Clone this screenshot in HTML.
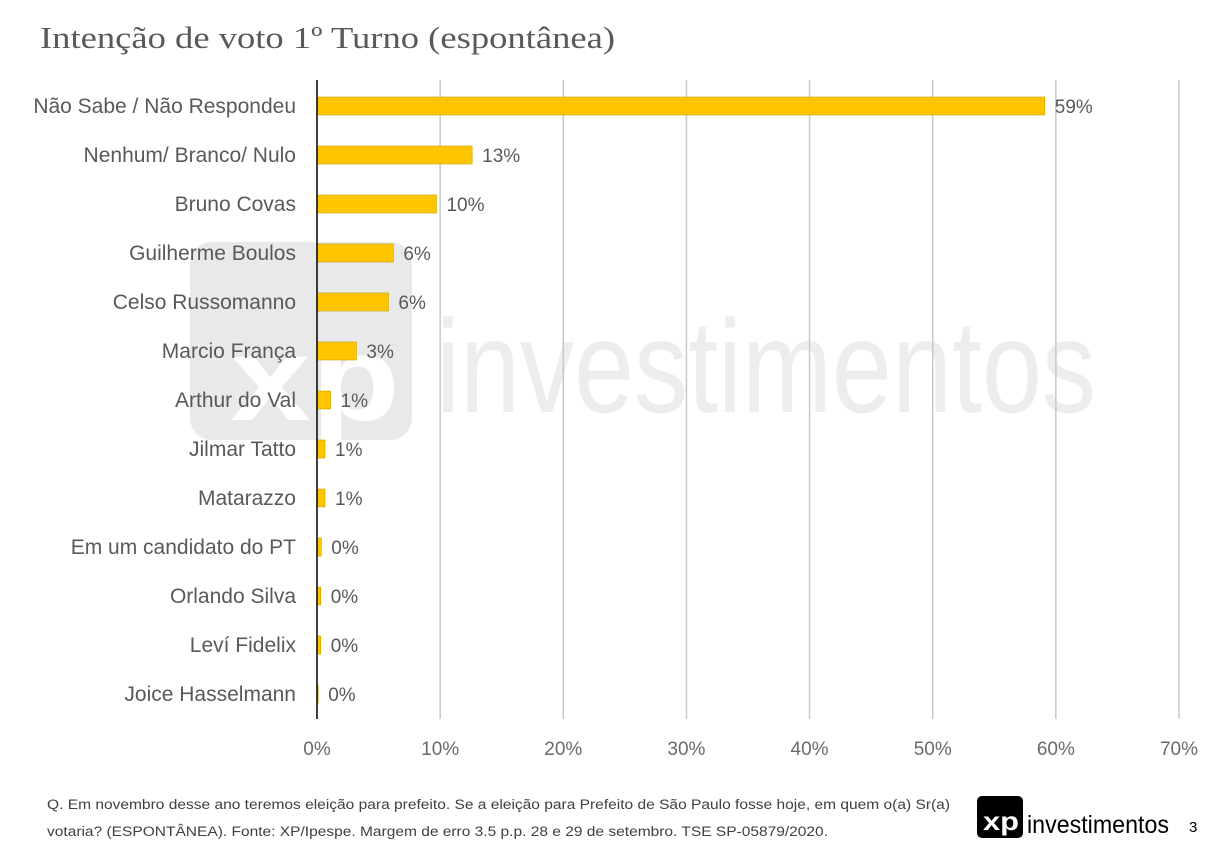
<!DOCTYPE html>
<html><head><meta charset="utf-8"><style>
body{margin:0;background:#fff;}
svg{display:block;font-family:"Liberation Sans",sans-serif;}
</style></head><body>
<svg width="1208" height="853" viewBox="0 0 1208 853" id="chart">
<g>
<rect x="190" y="242" width="222" height="198" rx="22" fill="#e9e9e9"/>
<text x="230" y="420" font-size="120" font-weight="bold" fill="#fff" textLength="170" lengthAdjust="spacingAndGlyphs">xp</text>
<text x="436" y="412" font-size="132" fill="#ededed" textLength="660" lengthAdjust="spacingAndGlyphs">investimentos</text>
</g>
<text x="40" y="48" font-size="31" fill="#595959" font-family="Liberation Serif, serif" textLength="575" lengthAdjust="spacingAndGlyphs">Intenção de voto 1º Turno (espontânea)</text>
<g id="grid"></g><g id="bars"></g><g id="labels"></g>
<line x1="317" y1="80" x2="317" y2="719" stroke="#000" stroke-width="1.5"/>
<text x="47" y="809" font-size="13.5" fill="#404040" textLength="903" lengthAdjust="spacingAndGlyphs">Q. Em novembro desse ano teremos eleição para prefeito. Se a eleição para Prefeito de São Paulo fosse hoje, em quem o(a) Sr(a)</text>
<text x="47" y="836" font-size="13.5" fill="#404040" textLength="781" lengthAdjust="spacingAndGlyphs">votaria? (ESPONTÂNEA). Fonte: XP/Ipespe. Margem de erro 3.5 p.p. 28 e 29 de setembro. TSE SP-05879/2020.</text>
<g>
<rect x="977" y="796" width="46" height="42" rx="5" fill="#000"/>
<text x="983" y="830" font-size="26" font-weight="bold" fill="#fff" textLength="36" lengthAdjust="spacingAndGlyphs">xp</text>
<text x="1027" y="833" font-size="25" fill="#000" textLength="142" lengthAdjust="spacingAndGlyphs">investimentos</text>
</g>
<text x="1189" y="832" font-size="15" fill="#000">3</text>
</svg>
<script>
const categories=["Não Sabe / Não Respondeu","Nenhum/ Branco/ Nulo","Bruno Covas","Guilherme Boulos","Celso Russomanno","Marcio França","Arthur do Val","Jilmar Tatto","Matarazzo","Em um candidato do PT","Orlando Silva","Leví Fidelix","Joice Hasselmann"];
const values=[59.1,12.6,9.7,6.2,5.8,3.2,1.1,0.65,0.65,0.35,0.3,0.3,0.1];
const valueLabels=["59%","13%","10%","6%","6%","3%","1%","1%","1%","0%","0%","0%","0%"];
const ticks=[0,10,20,30,40,50,60,70];
const NS="http://www.w3.org/2000/svg";
const x=v=>317+v*(1179-317)/70;
const y=i=>106+i*49;
function mk(t,a,p){const e=document.createElementNS(NS,t);for(const k in a)e.setAttribute(k,a[k]);p.appendChild(e);return e;}
const grid=document.getElementById('grid'),bars=document.getElementById('bars'),labels=document.getElementById('labels');
ticks.forEach(t=>{
 if(t>0){const l=mk('line',{x1:x(t),y1:80,x2:x(t),y2:719,stroke:'#c8c8c8','stroke-width':1.5},grid);
 
 }
 const tx=mk('text',{x:x(t),y:755,'font-size':19,fill:'#6a6a6a','text-anchor':'middle'},labels);
 tx.textContent=t+'%';
 
 
});
categories.forEach((c,i)=>{
 const r=mk('rect',{x:317,y:y(i)-9,width:x(values[i])-317,height:18,fill:'#ffc600',stroke:'#c9a000','stroke-width':0.6},bars);
 
 
 const lt=mk('text',{x:296,y:y(i)+7,'font-size':21,fill:'#595959','text-anchor':'end'},labels);
 lt.textContent=c;
 
 
 const vt=mk('text',{x:x(values[i])+10,y:y(i)+7,'font-size':19,fill:'#595959'},labels);
 vt.textContent=valueLabels[i];
 
 
});
</script>
</body></html>
